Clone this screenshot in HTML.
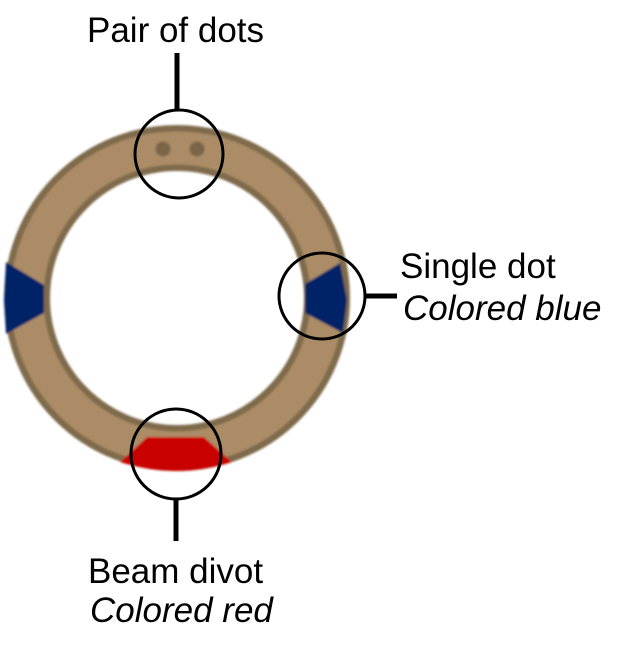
<!DOCTYPE html>
<html><head><style>
html,body{margin:0;padding:0;background:#fff;}
svg{display:block;}
text{font-family:"Liberation Sans",Arial,sans-serif;font-size:35px;fill:#000;}
.i{font-style:italic;}
</style></head><body>
<svg width="620" height="652" viewBox="0 0 620 652" xmlns="http://www.w3.org/2000/svg">
<defs><filter id="b"><feGaussianBlur stdDeviation="1"/></filter></defs>
<g filter="url(#b)">
<circle cx="177" cy="298" r="150" fill="none" stroke="#7f6a4c" stroke-width="46"/>
<circle cx="177" cy="298" r="150" fill="none" stroke="#ab8c66" stroke-width="33"/>
<circle cx="163" cy="149" r="7.5" fill="#7a6548"/>
<circle cx="197" cy="149" r="7.5" fill="#7a6548"/>
<polygon points="6,262 44,285 44,313 6,334 4,300" fill="#042266"/>
<polygon points="340,263 305,284 305,313 343,333 347,300" fill="#042266"/>
<path d="M147,437 L204,437 L232,462 Q176,480 120,462 Z" fill="#c90000"/>
</g>
<g fill="none" stroke="#000" stroke-width="3">
<circle cx="179" cy="154" r="44"/>
<circle cx="322" cy="296" r="43"/>
<circle cx="176" cy="454" r="45"/>
</g>
<g stroke="#000" stroke-width="5">
<line x1="177" y1="53" x2="177" y2="110"/>
<line x1="364" y1="296" x2="397" y2="296"/>
<line x1="176" y1="499" x2="176" y2="541"/>
</g>
<text x="87" y="42">Pair of dots</text>
<text x="400" y="278">Single dot</text>
<text x="403" y="320" class="i">Colored blue</text>
<text x="88" y="583">Beam divot</text>
<text x="90" y="622" class="i">Colored red</text>
</svg>
</body></html>
